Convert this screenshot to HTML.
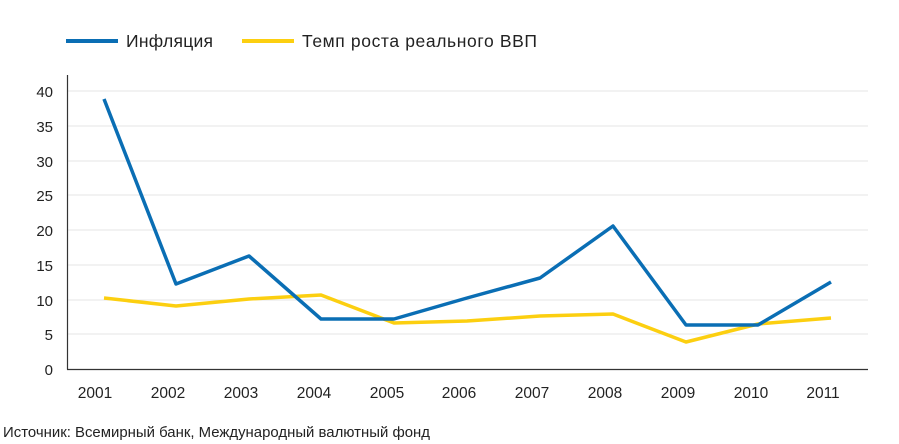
<!DOCTYPE html>
<html><head><meta charset="utf-8"><style>
body{margin:0;background:#fff;}
svg{display:block;font-family:"Liberation Sans",sans-serif;}
</style></head><body>
<svg width="899" height="444" viewBox="0 0 899 444">
<g stroke="#e6e6e6" stroke-width="1">
<line x1="68" y1="91" x2="868" y2="91"/><line x1="68" y1="126" x2="868" y2="126"/>
<line x1="68" y1="161" x2="868" y2="161"/><line x1="68" y1="195" x2="868" y2="195"/>
<line x1="68" y1="230" x2="868" y2="230"/><line x1="68" y1="265" x2="868" y2="265"/>
<line x1="68" y1="300" x2="868" y2="300"/><line x1="68" y1="334" x2="868" y2="334"/>
</g>
<line x1="67.5" y1="75" x2="67.5" y2="369.5" stroke="#333" stroke-width="1.2"/>
<line x1="67" y1="369.5" x2="868" y2="369.5" stroke="#333" stroke-width="1.2"/>
<g font-size="15" fill="#222" text-anchor="end">
<text x="53" y="97">40</text><text x="53" y="132">35</text><text x="53" y="167">30</text>
<text x="53" y="201">25</text><text x="53" y="236">20</text><text x="53" y="271">15</text>
<text x="53" y="306">10</text><text x="53" y="340">5</text><text x="53" y="375">0</text>
</g>
<g font-size="15.5" fill="#222" text-anchor="middle">
<text x="95" y="398">2001</text><text x="168" y="398">2002</text><text x="241" y="398">2003</text>
<text x="314" y="398">2004</text><text x="387" y="398">2005</text><text x="459" y="398">2006</text>
<text x="532" y="398">2007</text><text x="605" y="398">2008</text><text x="678" y="398">2009</text>
<text x="751" y="398">2010</text><text x="823" y="398">2011</text>
</g>
<polyline fill="none" stroke="#fccf10" stroke-width="3.5" stroke-linejoin="round" points="104,298 176,306 249,299 321,295 394,323 467,321 540,316 613,314 686,342 758,324 831,318"/>
<polyline fill="none" stroke="#0a6eb4" stroke-width="3.5" stroke-linejoin="round" points="104,99 176,284 249,256 321,319 394,319 467,298 540,278 613,226 686,325 758,325 831,282"/>
<line x1="66" y1="41" x2="118" y2="41" stroke="#0a6eb4" stroke-width="4"/>
<text x="126" y="47" font-size="17.5" fill="#222" textLength="87" lengthAdjust="spacing">Инфляция</text>
<line x1="242" y1="41" x2="294" y2="41" stroke="#fccf10" stroke-width="4"/>
<text x="302" y="47" font-size="17.5" fill="#222" textLength="235" lengthAdjust="spacing">Темп роста реального ВВП</text>
<text x="3" y="437" font-size="14.5" fill="#222" textLength="427" lengthAdjust="spacingAndGlyphs">Источник: Всемирный банк, Международный валютный фонд</text>
</svg>
</body></html>
